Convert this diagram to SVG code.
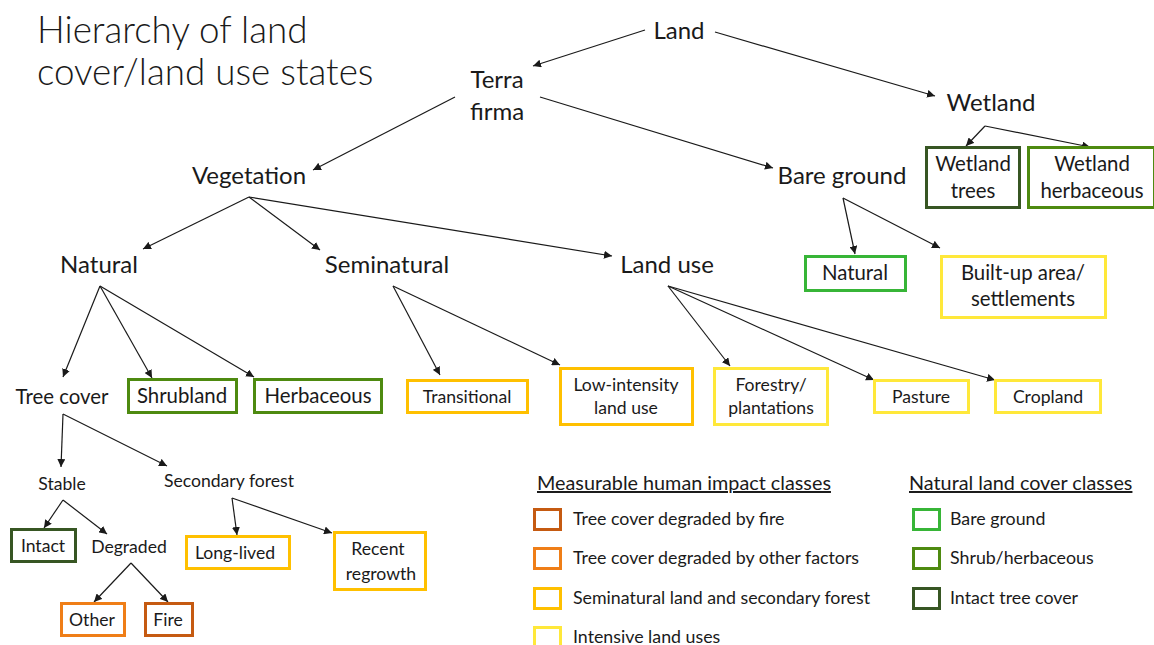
<svg xmlns="http://www.w3.org/2000/svg" width="1154" height="645" viewBox="0 0 1154 645">
<defs>
<marker id="ah" viewBox="0 0 10 10" refX="10" refY="5" markerWidth="8" markerHeight="8" markerUnits="userSpaceOnUse" orient="auto">
<path d="M0,0 L10,5 L0,10 z" fill="#1a1a1a"/>
</marker>
</defs>
<style>
text{font-family:Lato,"Open Sans","Liberation Sans",sans-serif;fill:#1a1a1a}
.t{font-weight:300;font-size:36.8px}
.n{font-size:24px;text-anchor:middle}
.b{font-size:20.4px;text-anchor:middle}
.s{font-size:17.6px;text-anchor:middle}
.l{font-size:17.8px}
.h{font-size:19.8px;text-decoration:underline}
rect{fill:#fff;stroke-width:3}
.dg{stroke:#375623}
.mg{stroke:#4E8A10}
.bg{stroke:#37B537}
.ye{stroke:#FFE83A}
.am{stroke:#FFC000}
.or{stroke:#EF7E17}
.bo{stroke:#C55A11}
#connectors line{stroke:#1a1a1a;stroke-width:1.2;marker-end:url(#ah)}
</style>
<rect x="0" y="0" width="1154" height="645" style="fill:#fff;stroke:none"/>
<g id="title">
<text class="t" x="37" y="43">Hierarchy of land</text>
<text class="t" x="37" y="85">cover/land use states</text>
</g>
<g id="connectors">
<line x1="645" y1="30" x2="533" y2="66"/>
<line x1="715" y1="32" x2="935" y2="96"/>
<line x1="455" y1="97" x2="313" y2="170"/>
<line x1="540" y1="97" x2="773" y2="168"/>
<line x1="985" y1="126" x2="966" y2="146"/>
<line x1="985" y1="126" x2="1090" y2="147"/>
<line x1="249" y1="197" x2="143" y2="249"/>
<line x1="249" y1="197" x2="320" y2="250"/>
<line x1="249" y1="197" x2="612" y2="256"/>
<line x1="843" y1="198" x2="855" y2="254"/>
<line x1="843" y1="198" x2="940" y2="248"/>
<line x1="100" y1="286" x2="63" y2="377"/>
<line x1="100" y1="286" x2="152" y2="378"/>
<line x1="100" y1="286" x2="254" y2="377"/>
<line x1="393" y1="286" x2="440" y2="375"/>
<line x1="393" y1="286" x2="560" y2="365"/>
<line x1="668" y1="286" x2="730" y2="366"/>
<line x1="668" y1="286" x2="874" y2="380"/>
<line x1="668" y1="286" x2="995" y2="380"/>
<line x1="63" y1="414" x2="61" y2="467"/>
<line x1="63" y1="414" x2="167" y2="466"/>
<line x1="63" y1="500" x2="44" y2="528"/>
<line x1="63" y1="500" x2="107" y2="534"/>
<line x1="232" y1="498" x2="237" y2="535"/>
<line x1="232" y1="498" x2="332" y2="533"/>
<line x1="131" y1="563" x2="94" y2="602"/>
<line x1="131" y1="563" x2="168" y2="602"/>
</g>
<g id="land"><text class="n" x="679" y="39">Land</text></g>
<g id="terra-firma"><text class="n" x="497" y="88">Terra</text><text class="n" x="497" y="120">firma</text></g>
<g id="wetland"><text class="n" x="991" y="111">Wetland</text></g>
<g id="vegetation"><text class="n" x="249" y="184">Vegetation</text></g>
<g id="bare-ground"><text class="n" x="842" y="184">Bare ground</text></g>
<g id="natural"><text class="n" x="99" y="273">Natural</text></g>
<g id="seminatural"><text class="n" x="387" y="273">Seminatural</text></g>
<g id="land-use"><text class="n" x="667" y="273">Land use</text></g>
<g id="wetland-trees"><rect class="dg" x="926.5" y="147.5" width="93" height="60"/><text class="b" x="973" y="171">Wetland</text><text class="b" x="973" y="198">trees</text></g>
<g id="wetland-herbaceous"><rect class="mg" x="1028.5" y="147.5" width="126" height="60"/><text class="b" x="1092" y="171">Wetland</text><text class="b" x="1092" y="198">herbaceous</text></g>
<g id="bare-natural"><rect class="bg" x="805.5" y="256.5" width="100" height="34"/><text class="b" x="855" y="280">Natural</text></g>
<g id="built-up"><rect class="ye" x="941.5" y="256.5" width="164" height="61"/><text class="b" x="1023" y="280">Built-up area/</text><text class="b" x="1023" y="306">settlements</text></g>
<g id="tree-cover"><text class="b" x="62" y="404">Tree cover</text></g>
<g id="shrubland"><rect class="mg" x="128.5" y="379.5" width="108" height="33"/><text class="b" x="182" y="403">Shrubland</text></g>
<g id="herbaceous"><rect class="mg" x="254.5" y="379.5" width="127" height="33"/><text class="b" x="318" y="403">Herbaceous</text></g>
<g id="transitional"><rect class="am" x="407.5" y="380.5" width="120" height="32"/><text class="s" x="467" y="403">Transitional</text></g>
<g id="low-intensity"><rect class="am" x="560.5" y="368.5" width="132" height="56"/><text class="s" x="626" y="391">Low-intensity</text><text class="s" x="626" y="414">land use</text></g>
<g id="forestry"><rect class="ye" x="714.5" y="368.5" width="113" height="56"/><text class="s" x="771" y="391">Forestry/</text><text class="s" x="771" y="414">plantations</text></g>
<g id="pasture"><rect class="ye" x="874.5" y="380.5" width="94" height="32"/><text class="s" x="921" y="403">Pasture</text></g>
<g id="cropland"><rect class="ye" x="995.5" y="380.5" width="105" height="32"/><text class="s" x="1048" y="403">Cropland</text></g>
<g id="stable"><text class="s" x="62" y="490">Stable</text></g>
<g id="secondary-forest"><text class="s" x="229" y="487">Secondary forest</text></g>
<g id="intact"><rect class="dg" x="11.5" y="529.5" width="64" height="32"/><text class="s" x="43" y="552">Intact</text></g>
<g id="degraded"><text class="s" x="129" y="553">Degraded</text></g>
<g id="long-lived"><rect class="am" x="186.5" y="536.5" width="103" height="32"/><text class="s" x="235" y="559">Long-lived</text></g>
<g id="recent-regrowth"><rect class="am" x="334.5" y="532.5" width="91" height="57"/><text class="s" x="378" y="555">Recent</text><text class="s" x="381" y="580">regrowth</text></g>
<g id="other"><rect class="or" x="61.5" y="603.5" width="63" height="32"/><text class="s" x="92" y="626">Other</text></g>
<g id="fire"><rect class="bo" x="145.5" y="603.5" width="47" height="32"/><text class="s" x="168" y="626">Fire</text></g>
<g id="legend-human">
<text class="h" x="537" y="490">Measurable human impact classes</text>
<rect class="bo" x="534.5" y="509.5" width="26" height="20"/><text class="l" x="573" y="525">Tree cover degraded by fire</text>
<rect class="or" x="534.5" y="548.5" width="26" height="20"/><text class="l" x="573" y="564">Tree cover degraded by other factors</text>
<rect class="am" x="534.5" y="588.5" width="26" height="20"/><text class="l" x="573" y="604">Seminatural land and secondary forest</text>
<rect class="ye" x="534.5" y="627.5" width="26" height="20"/><text class="l" x="573" y="643">Intensive land uses</text>
</g>
<g id="legend-natural">
<text class="h" x="909" y="490">Natural land cover classes</text>
<rect class="bg" x="913.5" y="509.5" width="26" height="20"/><text class="l" x="950" y="525">Bare ground</text>
<rect class="mg" x="913.5" y="548.5" width="26" height="20"/><text class="l" x="950" y="564">Shrub/herbaceous</text>
<rect class="dg" x="913.5" y="588.5" width="26" height="20"/><text class="l" x="950" y="604">Intact tree cover</text>
</g>
</svg>
